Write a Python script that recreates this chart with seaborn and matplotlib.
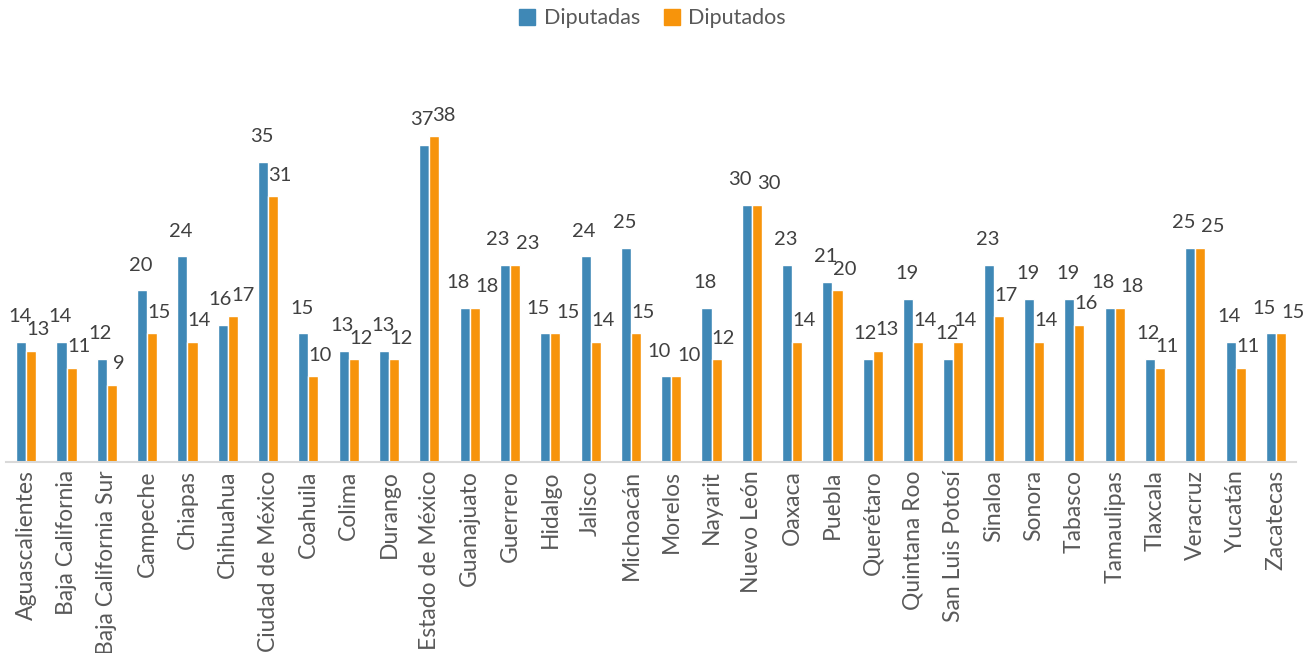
import matplotlib
matplotlib.use("Agg")
import matplotlib.pyplot as plt
import seaborn as sns
import pandas as pd

estados = [
    "Aguascalientes", "Baja California", "Baja California Sur", "Campeche",
    "Chiapas", "Chihuahua", "Ciudad de México", "Coahuila", "Colima",
    "Durango", "Estado de México", "Guanajuato", "Guerrero", "Hidalgo",
    "Jalisco", "Michoacán", "Morelos", "Nayarit", "Nuevo León", "Oaxaca",
    "Puebla", "Querétaro", "Quintana Roo", "San Luis Potosí", "Sinaloa",
    "Sonora", "Tabasco", "Tamaulipas", "Tlaxcala", "Veracruz", "Yucatán",
    "Zacatecas",
]
diputadas = [14, 14, 12, 20, 24, 16, 35, 15, 13, 13, 37, 18, 23, 15, 24, 25,
             10, 18, 30, 23, 21, 12, 19, 12, 23, 19, 19, 18, 12, 25, 14, 15]
diputados = [13, 11, 9, 15, 14, 17, 31, 10, 12, 12, 38, 18, 23, 15, 14, 15,
             10, 12, 30, 14, 20, 13, 14, 14, 17, 14, 16, 18, 11, 25, 11, 15]
series = ["Diputadas", "Diputados"]
colores = ["#3F88B6", "#F7940B"]

df = pd.DataFrame({
    "Estado": estados * 2,
    "Serie": [series[0]] * len(estados) + [series[1]] * len(estados),
    "Valor": diputadas + diputados,
})

sns.set_theme(style="white")
plt.rcParams["font.family"] = ["Lato", "DejaVu Sans"]

fig = plt.figure(figsize=(13.13, 6.53), dpi=100)
ax = fig.add_axes([0.0046, 0.2925, 0.9825, 0.5253])

sns.barplot(data=df, x="Estado", y="Valor", hue="Serie", order=estados,
            hue_order=series, palette=colores, width=0.5, saturation=1,
            ax=ax, legend=False)

ax.set_xlim(-0.5, len(estados) - 0.5)
ax.set_ylim(0, 40)
ax.set_xlabel("")
ax.set_ylabel("")
ax.set_yticks([])
for side in ["left", "right", "top"]:
    ax.spines[side].set_visible(False)
ax.spines["bottom"].set_color("#D9D9D9")
ax.spines["bottom"].set_linewidth(1.5)
ax.tick_params(axis="x", length=0, pad=6)
ax.set_xticks(range(len(estados)))
ax.set_xticklabels(estados, rotation=90, fontsize=16.5, color="#595959")

# value labels above each bar; pairs whose labels would collide are spread apart
blue_bars = ax.containers[0].patches
orange_bars = ax.containers[1].patches
for pb, po, a, b in zip(blue_bars, orange_bars, diputadas, diputados):
    if a == b:
        dxa, dxb = -5, 9
    elif b == a + 1:
        dxa, dxb = -2, 7
    else:
        dxa, dxb = -1, 5
    for patch, v, dx, dy in ((pb, a, dxa, 12), (po, b, dxb, 9)):
        xc = patch.get_x() + patch.get_width() / 2
        ax.annotate(str(v), (xc, v), xytext=(dx, dy), textcoords="offset points",
                    ha="center", va="bottom", fontsize=14.5, color="#404040",
                    annotation_clip=False)

handles = [plt.Rectangle((0, 0), 1, 1, color=c) for c in colores]
fig.legend(handles, series, loc="center", bbox_to_anchor=(0.497, 0.972),
           ncol=2, frameon=False, fontsize=15.5, handlelength=0.75,
           handleheight=0.75, handletextpad=0.4, columnspacing=1.1,
           labelcolor="#595959")

fig.savefig("out.png", dpi=100)
